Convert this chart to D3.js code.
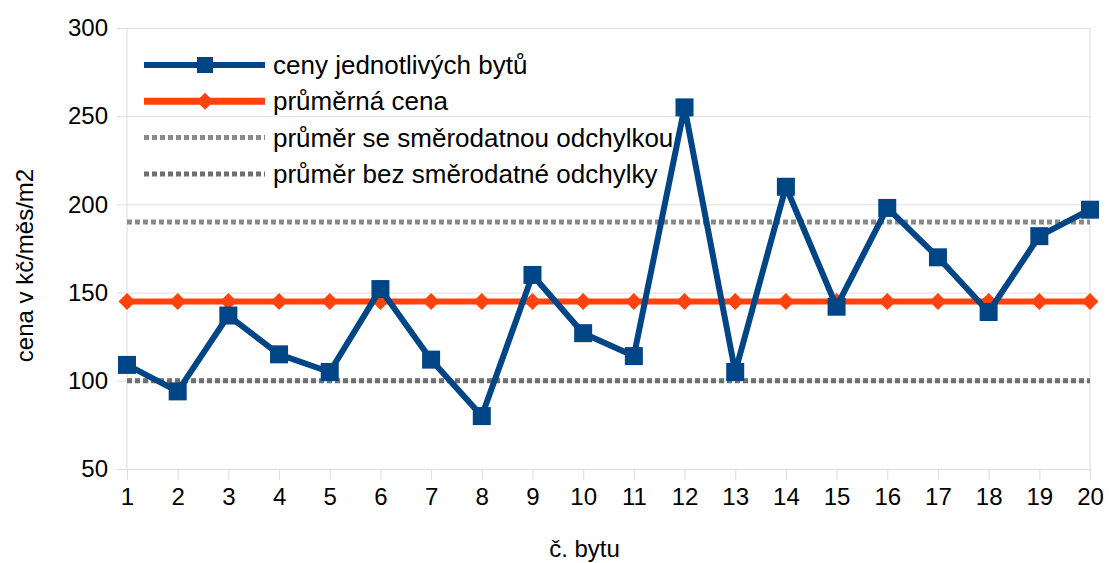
<!DOCTYPE html>
<html>
<head>
<meta charset="utf-8">
<script src="https://cdn.jsdelivr.net/npm/d3@7"></script>
<style>
  body { margin: 0; background: #fff; }
  text { font-family: "Liberation Sans", Arial, sans-serif; fill: #000; }
</style>
</head>
<body>
<svg id="chart"></svg>
<script>
const containerWidth = 1109;
const containerHeight = 563;

const margin = {top: 28, right: 19, bottom: 94, left: 127};
const chartWidth = containerWidth - margin.left - margin.right;
const chartHeight = containerHeight - margin.top - margin.bottom;

// data
const flats = d3.range(1, 21);
const prices = [109, 94, 137, 115, 105, 152, 112, 80, 160, 127, 114, 255, 105, 210, 142, 198, 170, 139, 182, 197];
const meanPrice = [145, 145, 145, 145, 145, 145, 145, 145, 145, 145, 145, 145, 145, 145, 145, 145, 145, 145, 145, 145];
const meanPlusSd = [190, 190, 190, 190, 190, 190, 190, 190, 190, 190, 190, 190, 190, 190, 190, 190, 190, 190, 190, 190];
const meanMinusSd = [100, 100, 100, 100, 100, 100, 100, 100, 100, 100, 100, 100, 100, 100, 100, 100, 100, 100, 100, 100];
const yTicks = [50, 100, 150, 200, 250, 300];
const seriesNames = ["ceny jednotlivých bytů", "průměrná cena", "průměr se směrodatnou odchylkou", "průměr bez směrodatné odchylky"];

const svg = d3.select("#chart")
  .attr("width", containerWidth)
  .attr("height", containerHeight)
  .append("g")
  .attr("transform", `translate(${margin.left},${margin.top})`);

const xScale = d3.scalePoint().domain(flats).range([0, chartWidth]);
const yScale = d3.scaleLinear().domain([50, 300]).range([chartHeight, 0]);

// grid
svg.append("g")
  .call(d3.axisLeft(yScale).tickValues(yTicks).tickSize(-chartWidth - 10).tickFormat(""))
  .attr("transform", "translate(-10,0)")
  .call(g => g.select(".domain").remove())
  .call(g => g.selectAll("line").attr("stroke", "#dddddd").attr("stroke-width", 1));

svg.append("g")
  .call(d3.axisLeft(yScale).tickValues(yTicks).tickSize(0).tickPadding(19))
  .call(g => g.select(".domain").remove())
  .call(g => g.selectAll("text").attr("font-size", 24).attr("font-family", "Liberation Sans"));

svg.append("line").attr("x1", 0).attr("x2", 0).attr("y1", 0).attr("y2", chartHeight)
  .attr("stroke", "#dddddd");
svg.append("line").attr("x1", chartWidth).attr("x2", chartWidth).attr("y1", 0).attr("y2", chartHeight)
  .attr("stroke", "#dddddd");

svg.append("g")
  .attr("transform", `translate(0,${chartHeight})`)
  .call(d3.axisBottom(xScale).tickSize(11).tickPadding(8))
  .call(g => g.select(".domain").remove())
  .call(g => g.selectAll("line").attr("stroke", "#dddddd"))
  .call(g => g.selectAll("text").attr("font-size", 24).attr("font-family", "Liberation Sans"));

// axis titles
svg.append("text")
  .attr("x", chartWidth / 2 - 24)
  .attr("y", chartHeight + 88)
  .attr("text-anchor", "middle")
  .attr("font-size", 24)
  .text("č. bytu");

svg.append("text")
  .attr("transform", `translate(${-94},${chartHeight / 2 + 17}) rotate(-90)`)
  .attr("text-anchor", "middle")
  .attr("font-size", 24)
  .text("cena v kč/měs/m2");

const line = d3.line().x((d, i) => xScale(flats[i])).y(d => yScale(d));

// dotted lines
svg.append("path").datum(meanPlusSd)
  .attr("d", line).attr("fill", "none")
  .attr("stroke", "#8a8a8a").attr("stroke-width", 5).attr("stroke-dasharray", "5,3");
svg.append("path").datum(meanMinusSd)
  .attr("d", line).attr("fill", "none")
  .attr("stroke", "#6f6f6f").attr("stroke-width", 5).attr("stroke-dasharray", "5,3");

// mean
svg.append("path").datum(meanPrice)
  .attr("d", line).attr("fill", "none")
  .attr("stroke", "#ff420e").attr("stroke-width", 6);
svg.selectAll(".diamond").data(meanPrice).join("path")
  .attr("class", "diamond")
  .attr("transform", (d, i) => `translate(${xScale(flats[i])},${yScale(d)}) rotate(45)`)
  .attr("d", "M-6,-6H6V6H-6Z")
  .attr("fill", "#ff420e");

// prices
svg.append("path").datum(prices)
  .attr("d", line).attr("fill", "none")
  .attr("stroke", "#004586").attr("stroke-width", 6).attr("stroke-linejoin", "round");
svg.selectAll(".square").data(prices).join("rect")
  .attr("class", "square")
  .attr("x", (d, i) => xScale(flats[i]) - 9)
  .attr("y", d => yScale(d) - 9)
  .attr("width", 18).attr("height", 18)
  .attr("fill", "#004586");

// legend
const legend = svg.append("g").attr("transform", "translate(17,37)");
const legendStyles = [
  {color: "#004586", width: 6, dash: null, marker: "square"},
  {color: "#ff420e", width: 7, dash: null, marker: "diamond"},
  {color: "#8a8a8a", width: 5, dash: "5,3", marker: null},
  {color: "#6f6f6f", width: 5, dash: "5,3", marker: null}
];
seriesNames.forEach((name, i) => {
  const g = legend.append("g").attr("transform", `translate(0,${i * 36.3})`);
  const st = legendStyles[i];
  g.append("line").attr("x1", 0).attr("x2", 121).attr("y1", 0).attr("y2", 0)
    .attr("stroke", st.color).attr("stroke-width", st.width)
    .attr("stroke-dasharray", st.dash);
  if (st.marker === "square") {
    g.append("rect").attr("x", 53).attr("y", -8).attr("width", 16).attr("height", 16).attr("fill", st.color);
  } else if (st.marker === "diamond") {
    g.append("path").attr("transform", "translate(61,0) rotate(45)")
      .attr("d", "M-6,-6H6V6H-6Z").attr("fill", st.color);
  }
  g.append("text").attr("x", 129).attr("y", 9).attr("font-size", 26).text(name);
});
</script>
</body>
</html>
